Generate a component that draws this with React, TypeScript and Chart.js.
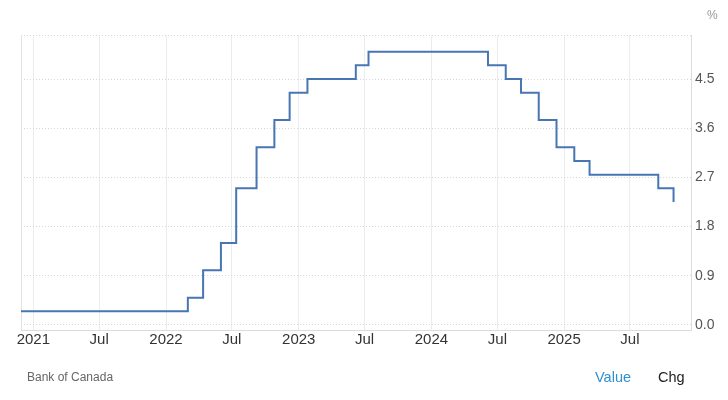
import React, { useEffect, useRef } from 'react';
import { Chart, registerables } from 'chart.js';

Chart.register(...registerables);

// Bank of Canada policy rate: dates of each change and the new rate (%)
const changeDates = [
  '2020-11-28', '2022-03-02', '2022-04-13', '2022-06-01', '2022-07-13', '2022-09-07',
  '2022-10-26', '2022-12-07', '2023-01-25', '2023-06-07', '2023-07-12', '2024-06-05',
  '2024-07-24', '2024-09-04', '2024-10-23', '2024-12-11', '2025-01-29', '2025-03-12',
  '2025-09-17', '2025-10-29',
];
const rates = [
  0.25, 0.5, 1.0, 1.5, 2.5, 3.25,
  3.75, 4.25, 4.5, 4.75, 5.0, 4.75,
  4.5, 4.25, 3.75, 3.25, 3.0, 2.75,
  2.5, 2.25,
];

const xTickDates = [
  '2021-01-01', '2021-07-01', '2022-01-01', '2022-07-01', '2023-01-01',
  '2023-07-01', '2024-01-01', '2024-07-01', '2025-01-01', '2025-07-01',
];
const xTickLabels = ['2021', 'Jul', '2022', 'Jul', '2023', 'Jul', '2024', 'Jul', '2025', 'Jul'];
const xRange = ['2020-11-28', '2025-12-16'];

const yTicks = [0, 0.9, 1.8, 2.7, 3.6, 4.5];
const yRange = [-0.0915, 5.305];

const FONT = "'Liberation Sans', Arial, sans-serif";

function toYear(d: string): number {
  const [y, m, dd] = d.split('-').map(Number);
  const start = Date.UTC(y, 0, 1);
  const end = Date.UTC(y + 1, 0, 1);
  return y + (Date.UTC(y, m - 1, dd) - start) / (end - start);
}

const leftBorder = {
  id: 'leftBorder',
  beforeDatasetsDraw(chart: any) {
    const { ctx, chartArea } = chart;
    ctx.save();
    ctx.strokeStyle = '#e2e2e2';
    ctx.lineWidth = 1;
    ctx.beginPath();
    ctx.moveTo(Math.round(chartArea.left) + 0.5, chartArea.top);
    ctx.lineTo(Math.round(chartArea.left) + 0.5, chartArea.bottom);
    ctx.stroke();
    ctx.restore();
  },
};

export default function App() {
  const canvasRef = useRef<HTMLCanvasElement | null>(null);

  useEffect(() => {
    if (!canvasRef.current) return;
    const points = changeDates.map((d, i) => ({ x: toYear(d), y: rates[i] }));
    const chart = new Chart(canvasRef.current, {
      type: 'line',
      data: {
        datasets: [
          {
            label: 'Value',
            data: points,
            stepped: true,
            borderColor: '#4776b2',
            borderWidth: 2,
            pointRadius: 0,
            fill: false,
          },
        ],
      },
      options: {
        animation: false,
        responsive: false,
        maintainAspectRatio: false,
        events: [],
        layout: { padding: { left: 21, top: 35, right: 0, bottom: 0 } },
        plugins: {
          legend: { display: false },
          tooltip: { enabled: false },
          title: { display: false },
        },
        scales: {
          x: {
            type: 'linear',
            position: 'bottom',
            min: toYear(xRange[0]),
            max: toYear(xRange[1]),
            afterBuildTicks: (s: any) => {
              s.ticks = xTickDates.map((d) => ({ value: toYear(d) }));
            },
            afterFit: (s: any) => {
              s.height = 70;
            },
            ticks: {
              autoSkip: false,
              maxRotation: 0,
              padding: 1,
              color: '#333',
              font: { family: FONT, size: 15 },
              callback: (_v: any, i: number) => xTickLabels[i],
            },
            grid: { color: '#ececec', drawTicks: false },
            border: { display: true, color: '#dcdcdc' },
          },
          y: {
            type: 'linear',
            position: 'right',
            min: yRange[0],
            max: yRange[1],
            afterBuildTicks: (s: any) => {
              s.ticks = [...yTicks, yRange[1]].map((v) => ({ value: v }));
            },
            afterFit: (s: any) => {
              s.width = 37;
            },
            ticks: {
              padding: 4,
              color: '#555',
              font: { family: FONT, size: 14 },
              callback: (_v: any, i: number) => (i < yTicks.length ? yTicks[i].toFixed(1) : ''),
            },
            grid: { color: '#d6d6d6', drawTicks: false },
            border: { display: true, color: '#dcdcdc', dash: [1, 2] },
          },
        },
      },
      plugins: [leftBorder],
    } as any);
    return () => chart.destroy();
  }, []);

  const textBase: React.CSSProperties = {
    position: 'absolute',
    fontFamily: FONT,
    lineHeight: '20px',
    whiteSpace: 'nowrap',
  };

  return (
    <div style={{ position: 'absolute', left: 0, top: 0, width: 728, height: 400, background: '#fff' }}>
      <canvas ref={canvasRef} width={728} height={400} style={{ width: 728, height: 400, display: 'block' }} />
      <span style={{ ...textBase, left: 707, top: 5, fontSize: 12, color: '#999' }}>%</span>
      <span style={{ ...textBase, left: 27, top: 367, fontSize: 12, color: '#666' }}>Bank of Canada</span>
      <span style={{ ...textBase, left: 595, top: 367, fontSize: 14.5, color: '#2f8fd0' }}>Value</span>
      <span style={{ ...textBase, left: 658, top: 367, fontSize: 14.5, color: '#222' }}>Chg</span>
    </div>
  );
}
